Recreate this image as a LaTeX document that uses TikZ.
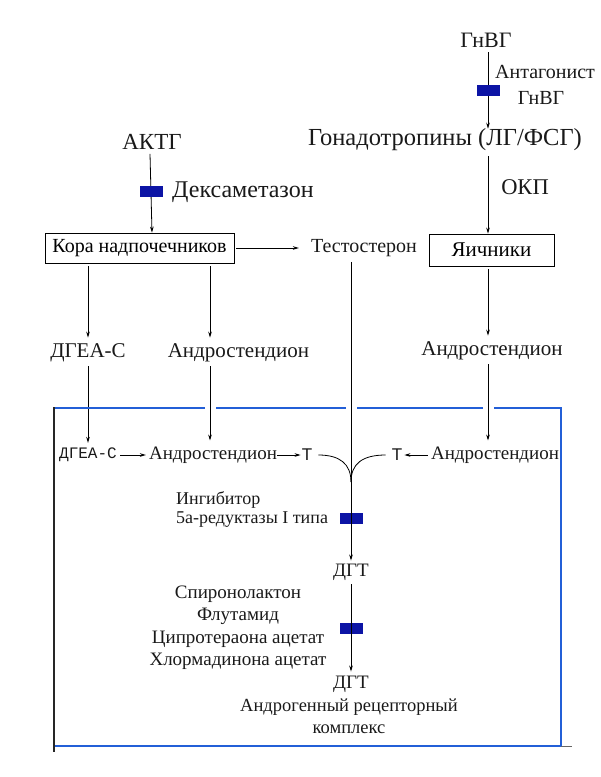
\documentclass[tikz,border=0pt]{standalone}
\usepackage{fontspec}
\setmainfont{Liberation Serif}
\newfontfamily\monof{Liberation Mono}
\newfontfamily\sansf{Liberation Sans}
\usetikzlibrary{arrows.meta}
\definecolor{blockblue}{RGB}{12,20,165}
\definecolor{frameblue}{RGB}{35,95,215}
\tikzset{
  txt/.style={inner sep=0pt, anchor=center, text=black!90},
  fs/.style={font=\fontsize{#1}{#1}\selectfont},
  arr/.style={-{Stealth[length=6pt,width=3.6pt]}, line width=0.8pt},
  ln/.style={line width=0.8pt},
  blk/.style={fill=blockblue, draw=none, minimum width=23pt, minimum height=11pt, inner sep=0pt},
  framebox/.style={draw, line width=0.8pt, inner sep=0pt},
  bord/.style={frameblue, line width=1.2pt}
}
\begin{document}
\begin{tikzpicture}[x=1pt,y=-1pt]
\useasboundingbox (0,0) rectangle (601,777);

% top hormones
\node[txt,fs=22] (gnvg) at (486,40) {ГнВГ};
\node[txt,fs=20,anchor=west] (ant1) at (495,72) {Антагонист};
\node[txt,fs=20] (ant2) at (541,98) {ГнВГ};
\node[txt,fs=24.5] (gonad) at (445,140) {Гонадотропины (ЛГ/ФСГ)};
\node[txt,fs=23] (aktg) at (152,142) {АКТГ};
\node[txt,fs=24,anchor=west] (deksa) at (172,192) {Дексаметазон};
\node[txt,fs=22.5] (okp) at (525,187) {ОКП};

% organs
\node[framebox,fs=20,minimum width=189pt,minimum height=30pt] (kora) at (139.5,248) {Кора надпочечников};
\node[txt,fs=20] (test) at (364,248) {Тестостерон};
\node[framebox,fs=21,minimum width=125pt,minimum height=32pt] (yaich) at (491.5,250) {Яичники};

% third level
\node[txt,fs=21] (dgea) at (88,353) {ДГЕА-С};
\node[txt,fs=21] (andr1) at (238.5,353) {Андростендион};
\node[txt,fs=21] (andr2) at (492,351) {Андростендион};

% inner row
\node[txt,font=\monof\fontsize{16}{16}\selectfont] (dgea2) at (88,455) {ДГЕА-С};
\node[txt,fs=19] (andr3) at (213,455) {Андростендион};
\node[txt,font=\sansf\fontsize{17}{17}\selectfont] (t1) at (307,455) {T};
\node[txt,font=\sansf\fontsize{17}{17}\selectfont] (t2) at (397,455) {T};
\node[txt,fs=19] (andr4) at (495,455) {Андростендион};
\coordinate (merge) at (351,482);

\node[txt,fs=18,anchor=west] (ing1) at (176,500) {Ингибитор};
\node[txt,fs=18,anchor=west] (ing2) at (176,520) {5а-редуктазы I типа};
\node[blk] (b3) at (351,518) {};
\node[txt,fs=19] (dgt1) at (351,572) {ДГТ};

\node[txt,fs=19] (l1) at (238,594) {Спиронолактон};
\node[txt,fs=19] (l2) at (238,616) {Флутамид};
\node[txt,fs=19] (l3) at (238,639) {Ципротераона ацетат};
\node[txt,fs=19] (l4) at (238,661) {Хлормадинона ацетат};
\node[blk] (b4) at (351,628) {};
\node[txt,fs=19] (dgt2) at (351,684) {ДГТ};
\node[txt,fs=18.5] (ar1) at (349,707) {Андрогенный рецепторный};
\node[txt,fs=18.5] (ar2) at (349,729) {комплекс};

% connectors top
\draw[arr] ([xshift=2pt,yshift=-12pt]gnvg.center) -- ([xshift=43pt]gonad.north);
\node[blk] (b1) at (488,90) {};
\draw[arr] ([xshift=-2pt]aktg.south) ++(0,4) -- (kora.north -| aktg.south);
\node[blk] (b2) at (151,191) {};
\draw[arr] ([xshift=43pt]gonad.south) ++(0,5) -- ([xshift=-3.5pt]yaich.north);
\draw[arr] ([xshift=2pt]kora.east) -- ([xshift=-12pt]kora.east -| test.west);

% organ down
\draw[arr] (kora.south -| dgea) ++(0,3) -- ([yshift=6pt]dgea.north);
\draw[arr] ([xshift=-28.5pt]andr1.north |- kora.south) ++(0,3) -- ([xshift=-28.5pt,yshift=6pt]andr1.north);
\draw[arr] ([xshift=-3.5pt]yaich.south) ++(0,3) -- ([xshift=-4pt,yshift=6pt]andr2.north);
\draw[ln] (test.south -| merge) ++(0,5) -- (merge);

% third level into cell
\draw[arr] ([yshift=-4pt]dgea.south) -- ([yshift=5pt]dgea2.north);
\draw[arr] ([xshift=-28.5pt,yshift=-4pt]andr1.south) -- ([xshift=-3pt,yshift=6pt]andr3.north);
\draw[arr] ([xshift=-4pt,yshift=-4pt]andr2.south) -- ([xshift=-7pt,yshift=6pt]andr4.north);

% inner row arrows
\draw[arr] ([xshift=3pt]dgea2.east) -- ([xshift=-3pt]andr3.west);
\draw[arr] (andr3.east) -- ([xshift=-1pt]t1.west);
\draw[arr] ([xshift=-3pt]andr4.west) -- ([xshift=2pt]t2.east);
\draw[ln] ([xshift=6pt]t1.east) .. controls (340,455) and (351,464) .. (merge);
\draw[ln] ([xshift=-6pt]t2.west) .. controls (362,455) and (351,464) .. (merge);
\draw[arr] (merge) -- ([yshift=3pt]dgt1.north);
\draw[arr] ([yshift=-4pt]dgt1.south) -- ([yshift=4pt]dgt2.north);

% cell frame
\draw[bord] (54,408) -- (205,408);
\draw[bord] (216,408) -- (346,408);
\draw[bord] (357,408) -- (483,408);
\draw[bord] (494,408) -- (561,408) -- (561,746) -- (54,746);
\draw[black!60, line width=1pt] (561,746.3) -- (572,746.3);
\draw[black!85, line width=1.4pt] (54,407) -- (54,752);
\end{tikzpicture}
\end{document}
